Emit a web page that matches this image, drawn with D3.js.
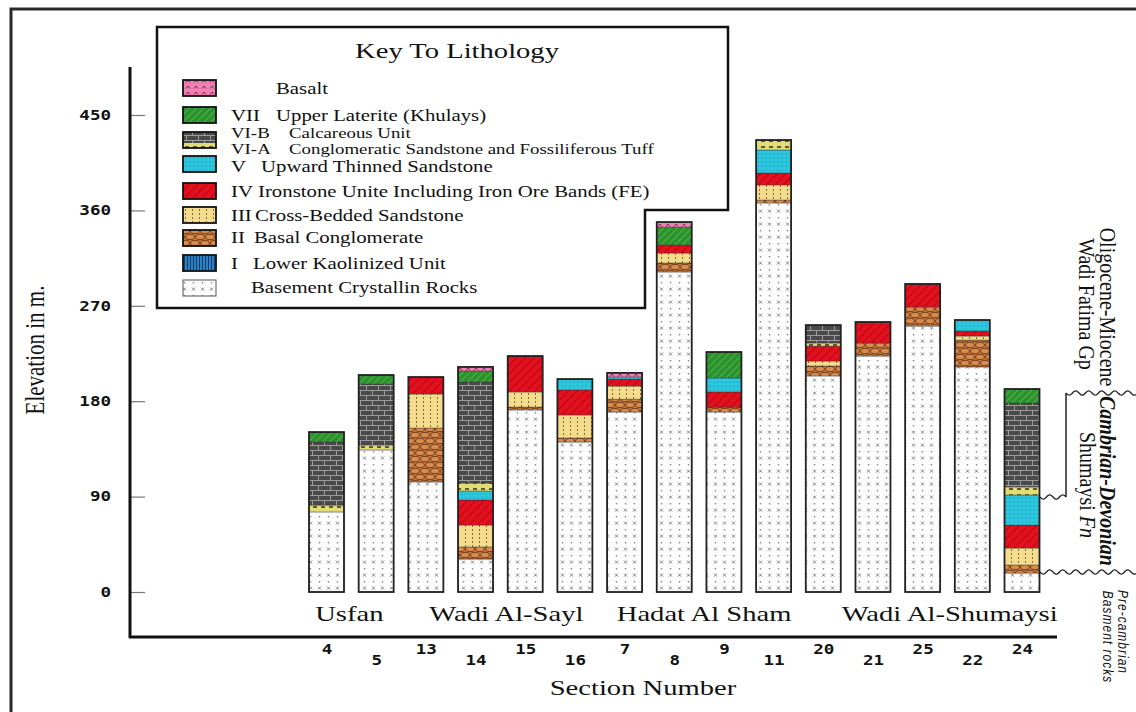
<!DOCTYPE html>
<html>
<head>
<meta charset="utf-8">
<script src="https://cdn.jsdelivr.net/npm/d3@7"></script>
<style>
body { margin:0; background:#fff; }
svg { display:block; }
</style>
</head>
<body>
<div id="figure"></div>
<script>
// section numbers, left to right
var sections = ["4","5","13","14","15","16","7","8","9","11","20","21","25","22","24"];

// thickness of every unit in each section (m), bottom unit first
var basement = [75.5,134,103.8,31.1,171.7,141.5,169.8,301.9,169.8,367,203.8,222.6,250.9,212.3,17.9];
var unitI    = [0,0,0,0,0,0,0,0,0,0,0,0,0,0,0];
var unitII   = [0,0,50.9,11.4,2.8,3.8,12.2,8.5,4.7,2.8,9.4,12.3,18,25.4,7.6];
var unitIII  = [0,0,32.1,20.7,14.2,21.7,12.3,9.4,0,14.2,4.7,0,0,3.8,16];
var unitIV   = [0,0,16,23.6,33.9,23.6,6.6,7.6,14.2,11.3,14.1,19.8,21.7,4.7,21.7];
var unitV    = [0,0,0,8.5,0,10.3,2,0,13.2,21.7,0,0,0,10.4,28.3];
var unitVIA  = [6.5,4.7,0,7.5,0,0,0,0,0,9.4,2.9,0,0,0,7.6];
var unitVIB  = [59.5,57.5,0,95.3,0,0,0,0,0,0,16.9,0,0,0,79.2];
var unitVII  = [9.4,8.5,0,10.4,0,0,0,16.9,24.5,0,0,0,0,0,13.2];
var basalt   = [0,0,0,3.8,0,0,3.8,4.7,0,0,0,0,0,0,0];

var yTicks = [0,90,180,270,360,450];

var areas = [
  {name:"Usfan", first:"4", last:"5"},
  {name:"Wadi Al-Sayl", first:"13", last:"16"},
  {name:"Hadat Al Sham", first:"7", last:"11"},
  {name:"Wadi Al-Shumaysi", first:"20", last:"24"}
];

var legendItems = [
  {key:"basalt", num:"", text:"Basalt"},
  {key:"VII", num:"VII", text:"Upper Laterite (Khulays)"},
  {key:"VIB", num:"VI-B", text:"Calcareous Unit"},
  {key:"VIA", num:"VI-A", text:"Conglomeratic Sandstone and Fossiliferous Tuff"},
  {key:"V", num:"V", text:"Upward Thinned Sandstone"},
  {key:"IV", num:"IV", text:"Ironstone Unite Including Iron Ore Bands (FE)"},
  {key:"III", num:"III", text:"Cross-Bedded Sandstone"},
  {key:"II", num:"II", text:"Basal Conglomerate"},
  {key:"I", num:"I", text:"Lower Kaolinized Unit"},
  {key:"basement", num:"", text:"Basement Crystallin Rocks"}
];

var unitKeys = ["basement","I","II","III","IV","V","VIA","VIB","VII","basalt"];
var unitCols = [basement,unitI,unitII,unitIII,unitIV,unitV,unitVIA,unitVIB,unitVII,basalt];

var table = sections.map(function(s,i) {
  var row = {section:s};
  unitKeys.forEach(function(k,j) { row[k] = unitCols[j][i]; });
  return row;
});

var W = 1136, H = 712;
var serif = "'Liberation Serif','Times New Roman',serif";
var mono = "'DejaVu Sans Mono',monospace";
var sx = 1.3;   // the original figure is stretched sideways

var svg = d3.select("#figure").append("svg").attr("width",W).attr("height",H);
svg.append("rect").attr("width",W).attr("height",H).attr("fill","#fff");

// ---------- fill patterns ----------
var defs = svg.append("defs");
function pat(id,w,h,bg,rot) {
  var p = defs.append("pattern").attr("id",id)
    .attr("patternUnits","userSpaceOnUse").attr("width",w).attr("height",h);
  if (rot) p.attr("patternTransform","rotate("+rot+")");
  p.append("rect").attr("width",w).attr("height",h).attr("fill",bg);
  return p;
}
var p;
p = pat("p-basement",9,13,"#fdfdfd");
p.append("path").attr("d","M3,1.6L6,4.6M6,1.6L3,4.6").attr("stroke","#666").attr("stroke-width",0.8);
p.append("circle").attr("cx",4.5).attr("cy",9.8).attr("r",0.8).attr("fill","#777");

p = pat("p-I",3,4,"#2f80c0");
p.append("line").attr("x1",1.5).attr("x2",1.5).attr("y1",0).attr("y2",4).attr("stroke","#0f3f70").attr("stroke-width",1);

p = pat("p-II",10,12,"#c4733a");
[[5,3],[0,9],[10,9]].forEach(function(c) {
  p.append("ellipse").attr("cx",c[0]).attr("cy",c[1]).attr("rx",4.4).attr("ry",2.6)
    .attr("fill","#d88c50").attr("stroke","#5e3312").attr("stroke-width",0.8);
});

p = pat("p-III",7,4,"#f4dc8e");
p.append("rect").attr("x",3).attr("y",1).attr("width",1).attr("height",2).attr("fill","#8c6d2c");

p = pat("p-IV",6,6,"#e3101e",45);
p.append("line").attr("x1",0).attr("x2",0).attr("y1",0).attr("y2",6).attr("stroke","#a8000e").attr("stroke-width",1.4);

p = pat("p-V",4,4,"#2cc6de");
p.append("circle").attr("cx",2).attr("cy",2).attr("r",0.6).attr("fill","#157a94");

p = pat("p-VIA",8,6,"#e2dc74");
p.append("path").attr("d","M1,3H5").attr("stroke","#222").attr("stroke-width",1.4);

p = pat("p-VIB",12,10,"#4a4a4a");
p.append("path").attr("d","M0,0.5H12M0,5.5H12M0.5,0.5V5.5M6.5,5.5V10").attr("stroke","#a5a5a5").attr("stroke-width",0.9).attr("fill","none");

p = pat("p-VII",5,5,"#2b922e",45);
p.append("line").attr("x1",0).attr("x2",0).attr("y1",0).attr("y2",5).attr("stroke","#72d06c").attr("stroke-width",1);

p = pat("p-basalt",8,6,"#f07fb4");
p.append("path").attr("d","M2,4.5L4,2L6,4.5").attr("stroke","#5a1a35").attr("fill","none").attr("stroke-width",0.8);

// stretched text helper
function stext(parent,str,x,y,size,anchor) {
  return parent.append("text")
    .attr("transform","translate("+x+","+y+") scale("+sx+",1)")
    .attr("text-anchor",anchor || "start")
    .attr("font-family",serif).attr("font-size",size+"px").attr("fill","#111")
    .text(str);
}

// ---------- frame ----------
svg.append("path").attr("d","M11,712V9H1136").attr("fill","none").attr("stroke","#2a2a2a").attr("stroke-width",3);

// ---------- scales and axes ----------
var x = d3.scalePoint().domain(sections).range([326.5,1022]);
var y = d3.scaleLinear().domain([0,450]).range([592,115]);
var bw = 35;

var gy = svg.append("g").attr("transform","translate(130,0)")
  .call(d3.axisLeft(y).tickValues(yTicks).tickSize(-15).tickPadding(19));
gy.select(".domain").remove();
gy.selectAll("line").attr("stroke","#777").attr("stroke-width",1.2);
gy.selectAll("text").attr("x",null)
  .attr("transform","translate(-19,0) scale("+sx+",1)")
  .attr("font-family",mono).attr("font-weight","bold").attr("font-size","13.5px").attr("fill","#111");

var gx = svg.append("g").attr("transform","translate(0,637)")
  .call(d3.axisBottom(x).tickSize(0).tickPadding(0));
gx.select(".domain").remove();
gx.selectAll("text").attr("y",null).attr("dy",null)
  .attr("transform",function(d,i) { return "translate(0,"+(i%2 ? 28 : 17)+") scale("+sx+",1)"; })
  .attr("font-family",mono).attr("font-weight","bold").attr("font-size","13.5px").attr("fill","#111");

svg.append("line").attr("x1",130).attr("x2",130).attr("y1",67).attr("y2",638).attr("stroke","#111").attr("stroke-width",3);
svg.append("line").attr("x1",129).attr("x2",1057).attr("y1",637).attr("y2",637).attr("stroke","#111").attr("stroke-width",3);

stext(svg,"Section Number",643,695,22,"middle");
svg.append("text")
  .attr("transform","translate(44,350) rotate(-90) scale(1,1.25)")
  .attr("text-anchor","middle").attr("font-family",serif).attr("font-size","21px").attr("fill","#111")
  .text("Elevation in m.");

// ---------- stacked columns ----------
var series = d3.stack().keys(unitKeys)(table);

series.forEach(function(s) {
  svg.append("g").selectAll("rect").data(s.filter(function(d) { return d[1]-d[0] > 0; }))
    .enter().append("rect")
    .attr("x",function(d) { return x(d.data.section)-bw/2; })
    .attr("y",function(d) { return y(d[1]); })
    .attr("width",bw)
    .attr("height",function(d) { return y(d[0])-y(d[1]); })
    .attr("fill","url(#p-"+s.key+")")
    .attr("stroke","#333").attr("stroke-width",0.4);
});

svg.append("g").selectAll("rect").data(series[series.length-1])
  .enter().append("rect")
  .attr("x",function(d) { return x(d.data.section)-bw/2; })
  .attr("y",function(d) { return y(d[1]); })
  .attr("width",bw)
  .attr("height",function(d) { return y(0)-y(d[1]); })
  .attr("fill","none").attr("stroke","#222").attr("stroke-width",1.8);

// area names
var areaNudge = [-2,6,5,27];
areas.forEach(function(a,i) {
  var cx = (x(a.first)+x(a.last))/2 + areaNudge[i];
  stext(svg,a.name,cx,621,22,"middle");
});

// ---------- legend ----------
svg.append("path").attr("d","M157,27H728V210H645V308H157Z")
  .attr("fill","#fff").attr("stroke","#111").attr("stroke-width",2.5);
stext(svg,"Key To Lithology",457,58,22,"middle");

var rowY  = [94,121,138,154,172,197,221,243,269,293];
var textX = [276,276,289,289,261,258,255,254,253,251];
var swY   = [80,107,132,null,156,183,207,230,255,280];
var rowSize = [16,16,14.5,14.5,16,16,16,16,16,16];

legendItems.forEach(function(d,i) {
  if (swY[i] !== null) {
    if (d.key == "VIB") {
      svg.append("rect").attr("x",183).attr("y",swY[i]).attr("width",33).attr("height",11).attr("fill","url(#p-VIB)");
      svg.append("rect").attr("x",183).attr("y",swY[i]+11).attr("width",33).attr("height",5).attr("fill","url(#p-VIA)");
      svg.append("rect").attr("x",183).attr("y",swY[i]).attr("width",33).attr("height",16)
        .attr("fill","none").attr("stroke","#111").attr("stroke-width",1.8);
    } else {
      svg.append("rect").attr("x",183).attr("y",swY[i]).attr("width",33).attr("height",16)
        .attr("fill","url(#p-"+d.key+")")
        .attr("stroke",d.key=="basement" ? "#555" : "#111")
        .attr("stroke-width",d.key=="basement" ? 1 : 1.8);
    }
  }
  if (d.num) stext(svg,d.num,231,rowY[i],rowSize[i]);
  stext(svg,d.text,textX[i],rowY[i],rowSize[i]);
});

// ---------- formation brackets on the right ----------
function wavy(x0,x1,yy) {
  var pts = [];
  for (var xx=x0; xx<=x1; xx+=2) pts.push([xx, yy+2.5*Math.sin((xx-x0)/13*2*Math.PI)]);
  return d3.line().curve(d3.curveBasis)(pts);
}
svg.append("path").attr("d",wavy(1066,1136,393)).attr("fill","none").attr("stroke","#222").attr("stroke-width",1.3);
svg.append("path").attr("d",wavy(1040,1066,497)).attr("fill","none").attr("stroke","#222").attr("stroke-width",1.3);
svg.append("path").attr("d",wavy(1040,1136,572)).attr("fill","none").attr("stroke","#222").attr("stroke-width",1.3);
svg.append("line").attr("x1",1066).attr("x2",1066).attr("y1",393).attr("y2",497).attr("stroke","#222").attr("stroke-width",1.5);

function vtext(str,x0,y0,size,opts) {
  var t = svg.append("text")
    .attr("transform","translate("+x0+","+y0+") rotate(90) scale(1,1.2)")
    .attr("text-anchor","middle").attr("font-family",opts.family || serif)
    .attr("font-size",size+"px").attr("fill","#111");
  if (opts.italic) t.attr("font-style","italic");
  if (opts.bold) t.attr("font-weight","bold");
  if (opts.spacing) t.attr("letter-spacing",opts.spacing);
  return t.text(str);
}
vtext("Oligocene-Miocene",1100,307,20,{});
vtext("Wadi Fatima Gp",1079,304,20,{});
vtext("Cambrian-Devonian",1100,481,20,{italic:true,bold:true});
var sh = vtext("Shumaysi ",1080,485,20,{});
sh.append("tspan").attr("font-style","italic").text("Fn");
vtext("Pre-cambrian",1118,632,12,{italic:true,family:"'Liberation Sans',Arial,sans-serif",spacing:1});
vtext("Basment rocks",1103,637,12,{italic:true,family:"'Liberation Sans',Arial,sans-serif",spacing:1});
</script>
</body>
</html>
